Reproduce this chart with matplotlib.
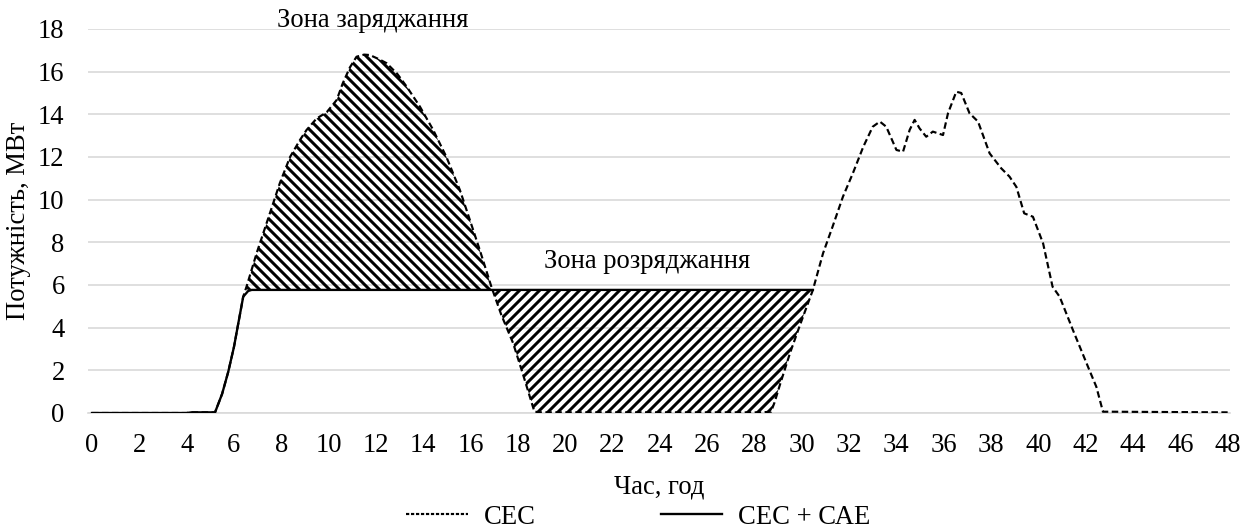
import numpy as np
import matplotlib
matplotlib.use("Agg")
import matplotlib.pyplot as plt
from matplotlib.lines import Line2D

plt.rcParams['font.family'] = ['Liberation Serif', 'DejaVu Serif']
plt.rcParams['hatch.linewidth'] = 1.8

# Data
hours = [0, 4.0, 4.2, 5.2, 5.5, 5.76, 6.0, 6.39, 6.53, 6.96, 7.52, 7.94, 8.37, 8.79,
         9.07, 9.49, 9.92, 10.34, 10.6, 10.9, 11.18, 11.5, 11.74, 12.1, 12.45, 12.9,
         13.3, 13.86, 14.42, 14.98, 15.55, 15.97, 16.39, 16.88, 17.3, 17.8, 18.2,
         18.7, 19.0, 28.3, 28.7, 28.85, 29.07, 29.5, 29.9, 30.47, 30.9, 31.3, 31.74,
         32.16, 32.6, 33.0, 33.3, 33.57, 34.0, 34.28, 34.56, 34.77, 34.98, 35.26,
         35.54, 35.97, 36.18, 36.53, 36.74, 37.09, 37.45, 37.94, 38.43, 38.78,
         39.07, 39.4, 39.77, 40.2, 40.6, 40.9, 41.46, 42.16, 42.45, 42.73, 43.1, 48.0]
ses = [0, 0.0, 0.03, 0.03, 0.9, 1.94, 3.1, 5.45, 5.92, 7.5, 9.37, 10.78, 12.0, 12.8,
       13.27, 13.8, 14.1, 14.67, 15.46, 16.2, 16.7, 16.8, 16.78, 16.6, 16.4, 15.9,
       15.3, 14.36, 13.27, 12.0, 10.45, 9.05, 7.64, 5.92, 4.6, 3.27, 1.87,
       0.06, 0.03, 0.03, 0.06, 0.5, 1.3, 2.8, 4.05, 5.77, 7.49, 8.73, 10.14,
       11.24, 12.48, 13.42, 13.66, 13.42, 12.33, 12.25, 13.27, 13.74, 13.34, 12.95,
       13.19, 13.03, 14.05, 15.06, 15.0, 14.05, 13.66, 12.17, 11.47, 11.08,
       10.6, 9.36, 9.2, 7.95, 5.92, 5.45, 3.89, 2.0, 1.23, 0.06, 0.06, 0.03]

ses_sae_hours = [0, 4.0, 4.2, 5.2, 5.5, 5.76, 6.0, 6.39, 6.6, 6.75, 30.47]
ses_sae = [0, 0.0, 0.03, 0.03, 0.9, 1.94, 3.1, 5.45, 5.72, 5.77, 5.77]

cap_level = 5.77
charge_range = (6.4, 16.95)
discharge_range = (16.95, 30.47)

xticks = list(range(0, 49, 2))
yticks = list(range(0, 19, 2))

W, H, DPI = 1252, 528, 120
FS = 16
fig = plt.figure(figsize=(W / DPI, H / DPI), dpi=DPI)
ax = fig.add_axes([88 / W, 1 - 413 / H, (1230 - 88) / W, (413 - 29) / H])

x = np.array(hours)
y = np.array(ses)
xf = np.linspace(0, 48, 4801)
yf = np.interp(xf, x, y)

m1 = (xf >= charge_range[0]) & (xf <= charge_range[1]) & (yf >= cap_level)
ax.fill_between(xf, cap_level, yf, where=m1, interpolate=True, facecolor='none',
                edgecolor='black', linewidth=0, hatch='\\\\\\\\', zorder=2)
m2 = (xf >= discharge_range[0]) & (xf <= discharge_range[1]) & (yf <= cap_level)
ax.fill_between(xf, yf, cap_level, where=m2, interpolate=True, facecolor='none',
                edgecolor='black', linewidth=0, hatch='////', zorder=2)

ax.plot(x, y, color='black', lw=1.3, linestyle=(0, (3, 1.6)), zorder=3)
ax.plot(ses_sae_hours, ses_sae, color='black', lw=1.4, solid_joinstyle='round', zorder=4)

ax.set_xlim(-0.17, 48.1)
ax.set_ylim(0, 18)
ax.set_xticks(xticks)
ax.set_yticks(yticks)
ax.tick_params(axis='both', length=0, labelsize=FS)
ax.tick_params(axis='y', pad=14)
ax.tick_params(axis='x', pad=12)
ax.grid(axis='y', color='#d9d9d9', lw=1.0)
ax.set_axisbelow(True)
for s in ['top', 'right', 'left']:
    ax.spines[s].set_visible(False)
ax.spines['bottom'].set_color('#d9d9d9')
ax.spines['bottom'].set_linewidth(1.0)

ax.set_ylabel('Потужність, МВт', fontsize=FS, labelpad=4)
ax.set_xlabel('Час, год', fontsize=FS, labelpad=10)

ax.text(11.87, 18.4, 'Зона заряджання', ha='center', va='center', fontsize=FS)
ax.text(23.45, 7.08, 'Зона розряджання', ha='center', va='center', fontsize=FS)

handles = [Line2D([], [], color='black', lw=1.3, linestyle=(0, (1.5, 0.8))),
           Line2D([], [], color='black', lw=1.4)]
fig.legend(handles, ['СЕС', 'СЕС + САЕ'], loc='center', bbox_to_anchor=(0.510, 1 - 517 / H),
           ncol=2, frameon=False, fontsize=FS, handlelength=2.3, columnspacing=4.7,
           handletextpad=0.6, borderpad=0.1)

fig.savefig('out.png', dpi=DPI)
